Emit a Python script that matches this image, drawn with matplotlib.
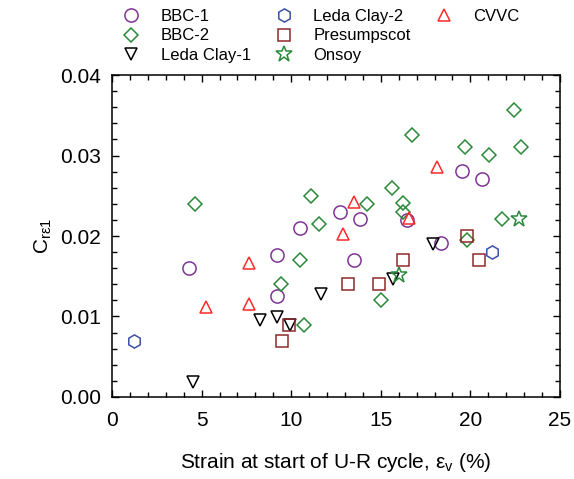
"""C_re1 versus strain at start of unload-reload cycle."""

import matplotlib
matplotlib.use("Agg")
import matplotlib.pyplot as plt
from matplotlib.lines import Line2D
from matplotlib.ticker import MultipleLocator, FormatStrFormatter

plt.rcParams["font.family"] = ["Liberation Sans", "DejaVu Sans"]
plt.rcParams["mathtext.default"] = "regular"

# data
bbc1_x = [4.32, 9.23, 9.23, 10.51, 12.70, 13.84, 13.50, 16.48, 18.34, 19.51, 20.63]
bbc1_y = [0.0160, 0.0176, 0.0125, 0.0210, 0.0230, 0.0221, 0.0170, 0.0220, 0.0191, 0.0281, 0.0271]

bbc2_x = [4.63, 9.43, 10.51, 10.73, 11.12, 11.53, 14.25, 14.99, 15.63, 16.22,
          16.22, 16.72, 19.70, 19.79, 21.02, 21.75, 22.41, 22.81]
bbc2_y = [0.0240, 0.0140, 0.0170, 0.0089, 0.0250, 0.0215, 0.0240, 0.0120, 0.0260, 0.0241,
          0.0230, 0.0326, 0.0311, 0.0195, 0.0301, 0.0221, 0.0356, 0.0311]

leda1_x = [4.54, 8.26, 9.23, 9.95, 11.64, 15.70, 17.93]
leda1_y = [0.0019, 0.0096, 0.0099, 0.0090, 0.0128, 0.0147, 0.0190]

leda2_x = [1.23, 21.22]
leda2_y = [0.0070, 0.0180]

pres_x = [9.50, 9.88, 13.15, 14.88, 16.22, 19.79, 20.50]
pres_y = [0.0070, 0.0090, 0.0140, 0.0140, 0.0170, 0.0200, 0.0170]

onsoy_x = [16.02, 22.71]
onsoy_y = [0.0151, 0.0221]

cvvc_x = [5.25, 7.64, 7.64, 12.90, 13.50, 16.59, 18.14]
cvvc_y = [0.0112, 0.0166, 0.0116, 0.0202, 0.0242, 0.0222, 0.0286]

series = [
    ("BBC-1", bbc1_x, bbc1_y, "o", "#7E3592", 9.5),
    ("BBC-2", bbc2_x, bbc2_y, "D", "#2A8A3A", 7.5),
    ("Leda Clay-1", leda1_x, leda1_y, "v", "black", 8.5),
    ("Leda Clay-2", leda2_x, leda2_y, "h", "#3A50A8", 9.5),
    ("Presumpscot", pres_x, pres_y, "s", "#8E2A2A", 8.5),
    ("Onsoy", onsoy_x, onsoy_y, "*", "#2A8A3A", 12),
    ("CVVC", cvvc_x, cvvc_y, "^", "#FF2A2A", 8.5),
]

fig = plt.figure(figsize=(5.74, 4.79), dpi=100)
ax = fig.add_axes([0.1951, 0.1712, 0.7805, 0.6722])

handles = []
for label, xs, ys, mk, col, ms in series:
    h, = ax.plot(xs, ys, linestyle="none", marker=mk, markersize=ms,
                 markerfacecolor="none", markeredgecolor=col,
                 markeredgewidth=1.1, label=label)
    handles.append(h)

ax.set_xlim(0, 25)
ax.set_ylim(0, 0.04)
ax.xaxis.set_major_locator(MultipleLocator(5))
ax.xaxis.set_minor_locator(MultipleLocator(1))
ax.yaxis.set_major_locator(MultipleLocator(0.01))
ax.yaxis.set_minor_locator(MultipleLocator(0.002))
ax.yaxis.set_major_formatter(FormatStrFormatter("%.2f"))
ax.tick_params(which="both", direction="in", top=True, right=True,
               labelsize=15, width=1)
ax.tick_params(which="major", length=5, pad=8)
ax.tick_params(axis="x", which="major", pad=10)
ax.tick_params(which="minor", length=3.5)
for s in ax.spines.values():
    s.set_linewidth(1.1)

ax.set_xlabel("Strain at start of U-R cycle, ε$_v$ (%)", fontsize=15, labelpad=15)
ax.set_ylabel("C$_{rε1}$", fontsize=15, labelpad=4)

# pad the last column with blanks so columns hold 3, 3, 1 entries
blank = Line2D([], [], linestyle="none")
leg_handles = handles + [blank, blank]
leg_labels = [h.get_label() for h in handles] + ["", ""]
fig.legend(leg_handles, leg_labels, ncol=3, loc="upper left",
           bbox_to_anchor=(0.181, 1.012), frameon=False, fontsize=12,
           labelspacing=0.25, handletextpad=1.0, columnspacing=1.25,
           handlelength=1.5)

fig.savefig("out.png", dpi=100)
